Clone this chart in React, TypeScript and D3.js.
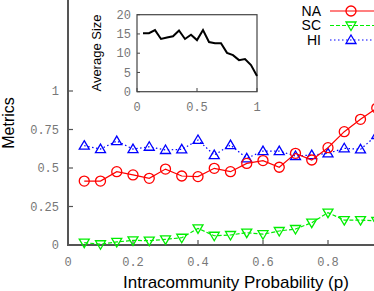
import * as d3 from "d3";
import { useRef, useEffect } from "react";

const probs = [0.05, 0.1, 0.15, 0.2, 0.25, 0.3, 0.35, 0.4, 0.45, 0.5, 0.55, 0.6, 0.65, 0.7, 0.75, 0.8, 0.85, 0.9, 0.95, 1.0];
const na = [0.415, 0.415, 0.476, 0.455, 0.433, 0.493, 0.448, 0.444, 0.498, 0.476, 0.53, 0.548, 0.505, 0.595, 0.552, 0.632, 0.736, 0.816, 0.889, 0.95];
const sc = [0.015, 0.005, 0.02, 0.03, 0.028, 0.037, 0.047, 0.108, 0.06, 0.065, 0.08, 0.07, 0.091, 0.104, 0.145, 0.21, 0.162, 0.162, 0.156, 0.16];
const hi = [0.645, 0.623, 0.675, 0.623, 0.638, 0.617, 0.621, 0.682, 0.584, 0.649, 0.563, 0.61, 0.61, 0.578, 0.584, 0.595, 0.628, 0.621, 0.714, 0.78];
const avgSize = [15.2, 15.2, 16.0, 13.7, 14.1, 14.4, 15.9, 13.7, 14.8, 13.4, 16.0, 12.9, 12.6, 12.6, 10.1, 9.5, 8.2, 8.5, 6.9, 4.1];

// the tick at 1 falls outside the visible area
const xTicks = [0, 0.2, 0.4, 0.6, 0.8];
const yTicks = [0, 0.25, 0.5, 0.75, 1];
const insetXTicks = [0, 0.5, 1];
const insetYTicks = [0, 5, 10, 15, 20];

const W = 374;
const H = 291;

export default function App() {
  const svgRef = useRef(null);

  useEffect(() => {
    const svg = d3.select(svgRef.current);
    svg.selectAll("*").remove();

    const mono = "Liberation Mono, monospace";
    const sans = "Liberation Sans, Arial, sans-serif";
    const tickGrey = "#777";
    const axisGrey = "#555";

    const x = d3.scaleLinear().domain([0, 1]).range([68, 393]);
    const y = d3.scaleLinear().domain([0, 1]).range([245, 91]);

    // main axes
    svg.append("line").attr("x1", 68).attr("x2", 68).attr("y1", 0).attr("y2", 245)
      .attr("stroke", axisGrey).attr("stroke-width", 2);
    svg.append("line").attr("x1", 67).attr("x2", W).attr("y1", 245).attr("y2", 245)
      .attr("stroke", axisGrey).attr("stroke-width", 2);

    yTicks.forEach(t => {
      svg.append("line").attr("x1", 68).attr("x2", 73).attr("y1", y(t)).attr("y2", y(t))
        .attr("stroke", axisGrey).attr("stroke-width", 1.2);
      svg.append("text").attr("x", 59).attr("y", y(t)).attr("dy", "0.35em")
        .attr("text-anchor", "end").attr("font-family", mono).attr("font-size", 12)
        .attr("fill", tickGrey).text(String(t));
    });
    xTicks.forEach(t => {
      svg.append("line").attr("x1", x(t)).attr("x2", x(t)).attr("y1", 245).attr("y2", 240)
        .attr("stroke", axisGrey).attr("stroke-width", 1.2);
      svg.append("text").attr("x", x(t)).attr("y", 262).attr("dy", "0.35em")
        .attr("text-anchor", "middle").attr("font-family", mono).attr("font-size", 12)
        .attr("fill", tickGrey).text(String(t));
    });

    svg.append("text").attr("transform", "translate(14,123) rotate(-90)")
      .attr("text-anchor", "middle").attr("font-family", sans).attr("font-size", 16)
      .attr("fill", "#000").text("Metrics");
    svg.append("text").attr("x", 236).attr("y", 288)
      .attr("text-anchor", "middle").attr("font-family", sans).attr("font-size", 17)
      .attr("fill", "#000").text("Intracommunity Probability (p)");

    const series = [
      { name: "NA", vals: na, color: "#ff0000", dash: null, marker: "circle" },
      { name: "SC", vals: sc, color: "#00ee00", dash: "4,2", marker: "down" },
      { name: "HI", vals: hi, color: "#0000ff", dash: "1.5,2.5", marker: "up" },
    ];

    const tri = (dir) => dir === "up" ? "M0,-5L5,3.5L-5,3.5Z" : "M0,5L5,-3.5L-5,-3.5Z";

    const drawMarker = (g, s, cx, cy) => {
      if (s.marker === "circle") {
        g.append("circle").attr("cx", cx).attr("cy", cy).attr("r", 5)
          .attr("fill", "none").attr("stroke", s.color).attr("stroke-width", 1.3);
      } else {
        g.append("path").attr("d", tri(s.marker)).attr("transform", `translate(${cx},${cy})`)
          .attr("fill", "none").attr("stroke", s.color).attr("stroke-width", 1.3);
      }
    };

    const line = d3.line().x((d, i) => x(probs[i])).y(d => y(d));
    const plot = svg.append("g");
    [series[1], series[2], series[0]].forEach(s => {
      plot.append("path").datum(s.vals).attr("d", line).attr("fill", "none")
        .attr("stroke", s.color).attr("stroke-width", 1.2)
        .attr("stroke-dasharray", s.dash);
      s.vals.forEach((v, i) => drawMarker(plot, s, x(probs[i]), y(v)));
    });

    // legend
    series.forEach((s, i) => {
      const ly = 11 + i * 14.5;
      svg.append("text").attr("x", 321).attr("y", ly).attr("dy", "0.35em")
        .attr("text-anchor", "end").attr("font-family", sans).attr("font-size", 14)
        .attr("fill", "#000").text(s.name);
      svg.append("line").attr("x1", 330).attr("x2", W).attr("y1", ly).attr("y2", ly)
        .attr("stroke", s.color).attr("stroke-width", 1.2).attr("stroke-dasharray", s.dash);
      drawMarker(svg, s, 351, ly);
    });

    // inset
    const ix = d3.scaleLinear().domain([0, 1]).range([137, 257]);
    const iy = d3.scaleLinear().domain([0, 20]).range([91.7, 14.7]);
    const inset = svg.append("g");
    inset.append("rect").attr("x", 137).attr("y", 14.7).attr("width", 120).attr("height", 77)
      .attr("fill", "white").attr("stroke", "#444").attr("stroke-width", 1.2);
    insetYTicks.forEach(t => {
      inset.append("line").attr("x1", 137).attr("x2", 140).attr("y1", iy(t)).attr("y2", iy(t))
        .attr("stroke", "#444");
      inset.append("text").attr("x", 131).attr("y", iy(t)).attr("dy", "0.35em")
        .attr("text-anchor", "end").attr("font-family", mono).attr("font-size", 12)
        .attr("fill", tickGrey).text(String(t));
    });
    insetXTicks.forEach(t => {
      inset.append("line").attr("x1", ix(t)).attr("x2", ix(t)).attr("y1", 91.7).attr("y2", 88)
        .attr("stroke", "#444");
      inset.append("text").attr("x", ix(t)).attr("y", 107).attr("dy", "0.35em")
        .attr("text-anchor", "middle").attr("font-family", mono).attr("font-size", 12)
        .attr("fill", tickGrey).text(String(t));
    });
    inset.append("path").datum(avgSize)
      .attr("d", d3.line().x((d, i) => ix(probs[i])).y(d => iy(d)))
      .attr("fill", "none").attr("stroke", "#000").attr("stroke-width", 2);
    inset.append("text").attr("transform", "translate(96,53) rotate(-90)")
      .attr("text-anchor", "middle").attr("dy", "0.35em").attr("font-family", sans).attr("font-size", 13)
      .attr("fill", "#000").text("Average Size");
  }, []);

  return (
    <svg ref={svgRef} width={W} height={H}
      style={{ position: "fixed", left: 0, top: 0, background: "white" }} />
  );
}
